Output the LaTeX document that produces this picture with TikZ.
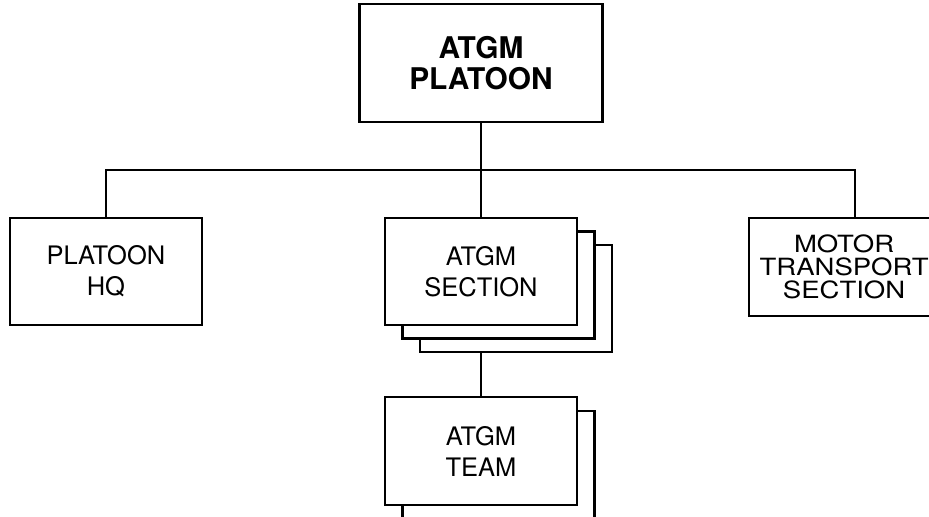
\documentclass[tikz,border=0pt]{standalone}
\usepackage{fontspec}
\setmainfont{TeX Gyre Heros}
\newfontfamily\widefont[FakeStretch=1.16]{TeX Gyre Heros}
\usetikzlibrary{positioning, backgrounds, calc}

\begin{document}
\begin{tikzpicture}[
		unitbox/.style={draw, fill=white, line width=1.2pt, align=center,
		                minimum width=3.84cm, minimum height=2.14cm,
		                font=\fontsize{14.5}{17.6}\selectfont},
		unitline/.style={line width=1.2pt}]
		\useasboundingbox (0,0) rectangle (18.58,-10.32);
		
		%Section block
		\node[unitbox] (section) at (9.62,-5.43){ATGM\\SECTION};
		
		%Platoon block
		\node[unitbox,
		      minimum width = 4.86cm,
		      minimum height = 2.36cm,
		      font=\fontsize{17}{17.6}\selectfont\bfseries,
		      above = 1.88cm of section] (platoon){ATGM\\PLATOON};
		
		%HQ block
		\node[unitbox, left = 3.62cm of section] (hq){PLATOON\\HQ};
		
		%Motor transport block
		\node[unitbox,
		      minimum width = 3.8cm,
		      minimum height = 1.96cm,
		      font=\widefont\fontsize{13.5}{13}\selectfont,
		      right = 3.4cm of section.north east, anchor=north west] (motor){MOTOR\\TRANSPORT\\SECTION};
		
		%Team block
		\node[unitbox, minimum height = 2.16cm, below = 1.4cm of section] (team){ATGM\\TEAM};
		
		%Stacked copies behind
		\begin{scope}[on background layer]
			\node[unitbox] (sectionc) at ([shift={(0.7,-0.54)}]section.center){};
			\node[unitbox] (sectionb) at ([shift={(0.35,-0.27)}]section.center){};
			\node[unitbox, minimum height = 2.6cm, anchor=north] (teamb) at ([shift={(0.35,-0.27)}]team.north){};
		\end{scope}
		
		%Connectors
		\coordinate (bus) at ($(platoon.south)!0.5!(section.north)$);
		\draw[unitline] (platoon) -- (section);
		\draw[unitline] (hq.north) |- (bus) -| ([xshift=0.22cm]motor.north);
		\draw[unitline] (section |- sectionc.south) -- (team);
	\end{tikzpicture}
\end{document}
